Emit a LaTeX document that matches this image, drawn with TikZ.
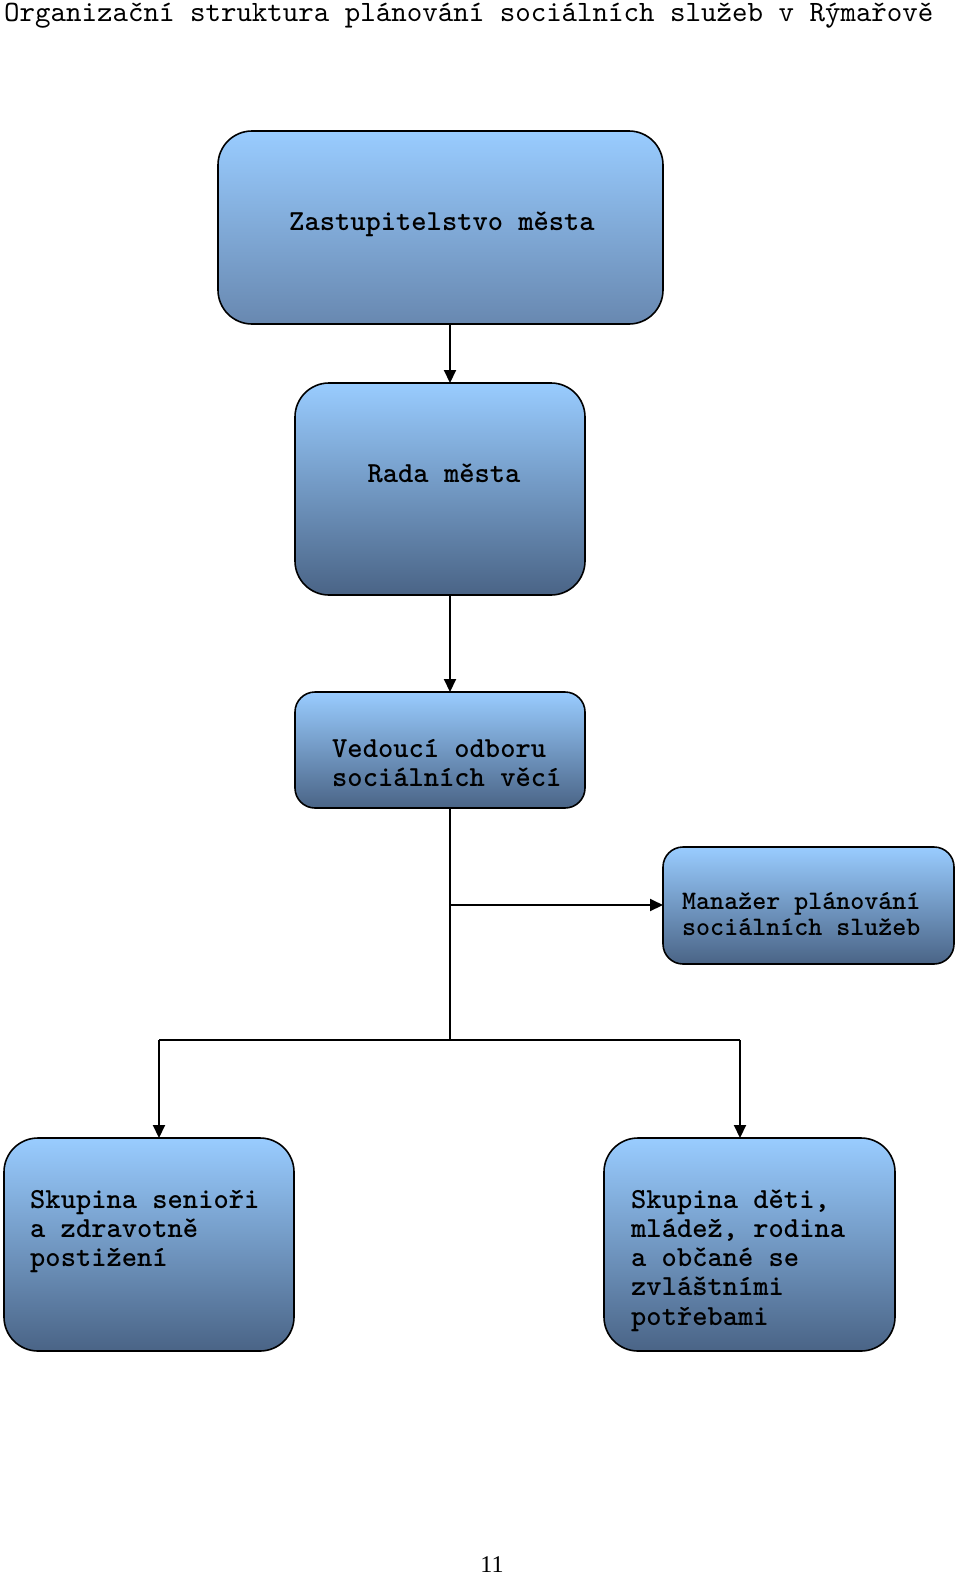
\documentclass[tikz,border=0pt]{standalone}
\usepackage{fontspec}
\setmainfont{Liberation Serif}
\newfontfamily\monof{lmmono10-regular}[Extension=.otf]
\newfontfamily\monob{lmmonolt10-bold}[Extension=.otf]
\usetikzlibrary{arrows.meta}
\definecolor{boxtop}{HTML}{99CCFF}
\definecolor{boxbot}{HTML}{4A6486}
\definecolor{boxbotlight}{HTML}{6888B0}
\newcommand\fst{\rule{0pt}{24pt}}
\tikzset{
  box/.style={draw=black, line width=1.6pt, top color=boxtop, bottom color=boxbot,
    inner sep=0pt, outer sep=0pt, rounded corners=#1},
  box/.default=34pt,
  txt/.style={font=\monob\fontsize{29.1pt}{29.2pt}\selectfont, inner sep=0pt, align=left},
  txts/.style={font=\monob\fontsize{26.7pt}{26.2pt}\selectfont, inner sep=0pt, align=left},
  conn/.style={line width=2pt, draw=black},
  arr/.style={conn, -{Triangle[length=13pt,width=12pt]}}
}
\begin{document}
\begin{tikzpicture}[x=1pt,y=-1pt]
\useasboundingbox (0,0) rectangle (960,1575);
\node[font=\monof\fontsize{29.5pt}{30pt}\selectfont, inner sep=0pt, anchor=base west] (title) at (4,21) {Organizační struktura plánování sociálních služeb v Rýmařově};

\node[box=34pt, top color=boxtop, bottom color=boxbotlight, minimum width=445pt, minimum height=193pt] (zast) at (440.5,227.5) {};
\node[box=34pt, minimum width=290pt, minimum height=212pt] (rada) at (440,489) {};
\node[box=20pt, minimum width=290pt, minimum height=116pt] (ved) at (440,750) {};
\node[box=20pt, minimum width=291pt, minimum height=117pt] (man) at (808.5,905.5) {};
\node[box=34pt, minimum width=290pt, minimum height=213pt] (sen) at (149,1244.5) {};
\node[box=34pt, minimum width=291pt, minimum height=213pt] (deti) at (749.5,1244.5) {};

\node[txt, anchor=base] (zastt) at (442,230) {Zastupitelstvo města};
\node[txt, anchor=base] (radat) at (444,482) {Rada města};
\node[txt, anchor=north west] (vedt) at (332,757-24) {\fst Vedoucí odboru\\sociálních věcí};
\node[txts, anchor=north west] (mant) at (682,909-24) {\fst Manažer plánování\\sociálních služeb};
\node[txt, anchor=north west] (sent) at (30,1208-24) {\fst Skupina senioři\\a zdravotně\\postižení};
\node[txt, anchor=north west] (detit) at (631,1208-24) {\fst Skupina děti,\\mládež, rodina\\a občané se\\zvláštními\\potřebami};

\node[font=\fontsize{24pt}{28pt}\selectfont, inner sep=0pt, anchor=base] (page) at (492,1572) {11};

\coordinate (vx) at (450,0);
\coordinate (lx) at (159,0);
\coordinate (rx) at (740,0);
\coordinate (jm) at (450,905);
\coordinate (jb) at (450,1040);
\coordinate (jl) at (159,1040);
\coordinate (jr) at (740,1040);

\draw[arr] (zast.south -| vx) -- (rada.north -| vx);
\draw[arr] (rada.south -| vx) -- (ved.north -| vx);
\draw[conn] (ved.south -| vx) -- (jb);
\draw[arr] (jm) -- (man.west |- jm);
\draw[conn] (jl) -- (jr);
\draw[arr] (jl) -- (sen.north -| lx);
\draw[arr] (jr) -- (deti.north -| rx);
\end{tikzpicture}
\end{document}
